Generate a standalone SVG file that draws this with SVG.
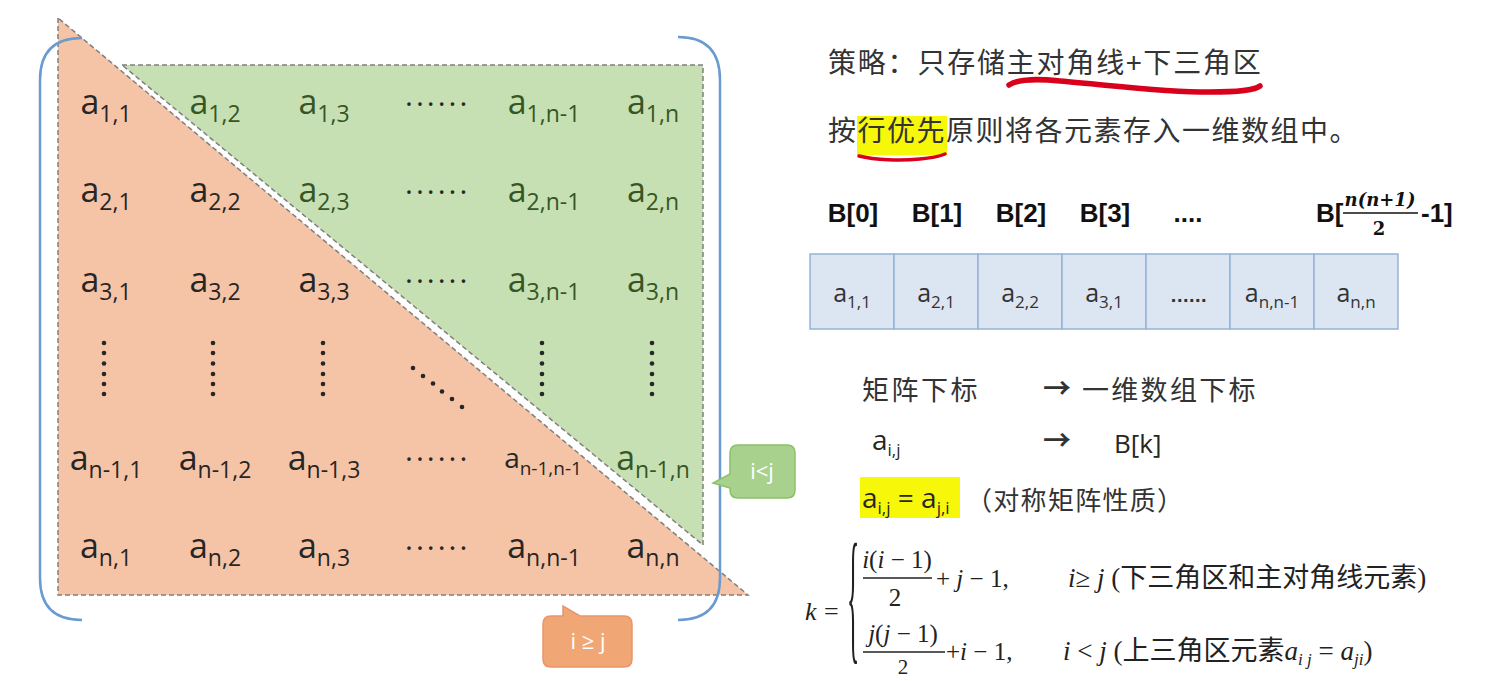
<svg xmlns="http://www.w3.org/2000/svg" width="1488" height="681" viewBox="0 0 1488 681">
<style>
.m{font-family:"Open Sans","Noto Sans",sans-serif;font-size:34px;fill:#262626}
.m .s{font-size:23px}
.gr{fill:#375623}
.dots{font-family:"Open Sans",sans-serif;font-size:30px;fill:#262626;letter-spacing:3px}
.dt{fill:#262626}
.cjk{font-family:"Noto Sans CJK SC",sans-serif;fill:#333333}
.bl{font-family:"Liberation Sans",Arial,sans-serif;font-weight:bold;font-size:26px;fill:#111111}
.cell{fill:#dce6f2;stroke:#95b3d7;stroke-width:1.5}
.ct{font-family:"Open Sans",sans-serif;font-size:25px;fill:#333333}
.ct .s{font-size:17px}
.mt{font-family:"Open Sans",sans-serif;font-size:28px;fill:#262626}
.mt .s{font-size:17px}
.ser{font-family:"Liberation Serif","Times New Roman",serif;font-size:25px;fill:#222222}
.it{font-style:italic}
.cn{font-family:"Liberation Serif","Noto Sans CJK SC",serif;font-size:27px;fill:#222222}
.dash{stroke:#7f7f7f;stroke-width:1.5;stroke-dasharray:5 3;fill:none}
.brk{fill:none;stroke:#6a9bd0;stroke-width:2.5}
.lbl{font-family:"Open Sans",sans-serif;font-size:22px;fill:#ffffff}
</style>

<g id="lower-triangle">
<polygon points="58,18 58,595 748,595" fill="#f5c4a7"/>
<polygon points="58,18 58,595 748,595" class="dash"/>
</g>
<g id="upper-triangle">
<polygon points="122,65 703,65 703,545" fill="#c6e0b4"/>
<polygon points="122,65 703,65 703,545" class="dash"/>
</g>

<g id="brackets">
<path class="brk" d="M82,38 Q40,38 40,80 L40,578 Q40,620 82,620"/>
<path class="brk" d="M678,37 Q720,37 720,80 L720,578 Q720,620 678,620"/>
</g>

<g id="matrix-elements">
<text class="m" x="106" y="114" text-anchor="middle">a<tspan class="s" dy="8">1,1</tspan></text>
<text class="m gr" x="215" y="114" text-anchor="middle">a<tspan class="s" dy="8">1,2</tspan></text>
<text class="m gr" x="324" y="114" text-anchor="middle">a<tspan class="s" dy="8">1,3</tspan></text>
<text class="dots" x="405" y="106">......</text>
<text class="m gr" x="544" y="114" text-anchor="middle">a<tspan class="s" dy="8">1,n-1</tspan></text>
<text class="m gr" x="653" y="114" text-anchor="middle">a<tspan class="s" dy="8">1,n</tspan></text>

<text class="m" x="106" y="202" text-anchor="middle">a<tspan class="s" dy="8">2,1</tspan></text>
<text class="m" x="215" y="202" text-anchor="middle">a<tspan class="s" dy="8">2,2</tspan></text>
<text class="m gr" x="324" y="202" text-anchor="middle">a<tspan class="s" dy="8">2,3</tspan></text>
<text class="dots" x="405" y="194">......</text>
<text class="m gr" x="544" y="202" text-anchor="middle">a<tspan class="s" dy="8">2,n-1</tspan></text>
<text class="m gr" x="653" y="202" text-anchor="middle">a<tspan class="s" dy="8">2,n</tspan></text>

<text class="m" x="106" y="292" text-anchor="middle">a<tspan class="s" dy="8">3,1</tspan></text>
<text class="m" x="215" y="292" text-anchor="middle">a<tspan class="s" dy="8">3,2</tspan></text>
<text class="m" x="324" y="292" text-anchor="middle">a<tspan class="s" dy="8">3,3</tspan></text>
<text class="dots" x="405" y="283">......</text>
<text class="m gr" x="544" y="292" text-anchor="middle">a<tspan class="s" dy="8">3,n-1</tspan></text>
<text class="m gr" x="653" y="292" text-anchor="middle">a<tspan class="s" dy="8">3,n</tspan></text>

<g class="dt">
<circle cx="104" cy="343" r="2.3"/><circle cx="104" cy="353" r="2.3"/><circle cx="104" cy="363.5" r="2.3"/><circle cx="104" cy="374" r="2.3"/><circle cx="104" cy="384" r="2.3"/><circle cx="104" cy="394" r="2.3"/>
<circle cx="213" cy="343" r="2.3"/><circle cx="213" cy="353" r="2.3"/><circle cx="213" cy="363.5" r="2.3"/><circle cx="213" cy="374" r="2.3"/><circle cx="213" cy="384" r="2.3"/><circle cx="213" cy="394" r="2.3"/>
<circle cx="323" cy="343" r="2.3"/><circle cx="323" cy="353" r="2.3"/><circle cx="323" cy="363.5" r="2.3"/><circle cx="323" cy="374" r="2.3"/><circle cx="323" cy="384" r="2.3"/><circle cx="323" cy="394" r="2.3"/>
<circle cx="542" cy="343" r="2.3"/><circle cx="542" cy="353" r="2.3"/><circle cx="542" cy="363.5" r="2.3"/><circle cx="542" cy="374" r="2.3"/><circle cx="542" cy="384" r="2.3"/><circle cx="542" cy="394" r="2.3"/>
<circle cx="652" cy="343" r="2.3"/><circle cx="652" cy="353" r="2.3"/><circle cx="652" cy="363.5" r="2.3"/><circle cx="652" cy="374" r="2.3"/><circle cx="652" cy="384" r="2.3"/><circle cx="652" cy="394" r="2.3"/>
<circle cx="413" cy="368" r="2.3"/><circle cx="423" cy="376" r="2.3"/><circle cx="433" cy="383.5" r="2.3"/><circle cx="442" cy="391.5" r="2.3"/><circle cx="452" cy="399" r="2.3"/><circle cx="462" cy="407" r="2.3"/>
</g>

<text class="m" x="106" y="470" text-anchor="middle">a<tspan class="s" dy="8">n-1,1</tspan></text>
<text class="m" x="215" y="470" text-anchor="middle">a<tspan class="s" dy="8">n-1,2</tspan></text>
<text class="m" x="324" y="470" text-anchor="middle">a<tspan class="s" dy="8">n-1,3</tspan></text>
<text class="dots" x="405" y="461">......</text>
<text class="m" x="543" y="468" text-anchor="middle" style="font-size:28px">a<tspan class="s" dy="7" style="font-size:19px">n-1,n-1</tspan></text>
<text class="m gr" x="653" y="470" text-anchor="middle">a<tspan class="s" dy="8">n-1,n</tspan></text>

<text class="m" x="106" y="558" text-anchor="middle">a<tspan class="s" dy="8">n,1</tspan></text>
<text class="m" x="215" y="558" text-anchor="middle">a<tspan class="s" dy="8">n,2</tspan></text>
<text class="m" x="324" y="558" text-anchor="middle">a<tspan class="s" dy="8">n,3</tspan></text>
<text class="dots" x="405" y="550">......</text>
<text class="m" x="544" y="558" text-anchor="middle">a<tspan class="s" dy="8">n,n-1</tspan></text>
<text class="m" x="653" y="558" text-anchor="middle">a<tspan class="s" dy="8">n,n</tspan></text>
</g>

<g id="callout-upper">
<path d="M738,445 H787 Q795,445 795,453 V490 Q795,498 787,498 H738 Q730,498 730,490 V488 L713,483 L730,474 V453 Q730,445 738,445 Z" fill="#a9d18e" stroke="#8cc068" stroke-width="1.5"/>
<text class="lbl" x="762" y="479" text-anchor="middle">i&lt;j</text>
</g>
<g id="callout-lower">
<path d="M551,616 H563 L563,606 L580,616 H624 Q632,616 632,624 V659 Q632,667 624,667 H551 Q543,667 543,659 V624 Q543,616 551,616 Z" fill="#f1a676" stroke="#e8956a" stroke-width="1.5"/>
<text class="lbl" x="588" y="649" text-anchor="middle">i ≥ j</text>
</g>

<g id="strategy">
<text class="cjk" x="828" y="73" style="font-size:28px;letter-spacing:1.8px">策略：只存储主对角线+下三角区</text>
<path d="M1009,85 C1020,78 1040,79 1060,81 C1110,85 1160,92 1210,92 C1235,92 1255,90 1260,86" fill="none" stroke="#d9001b" stroke-width="5.5" stroke-linecap="round"/>
<rect x="857" y="116" width="90" height="39" fill="#f7f70a"/>
<text class="cjk" x="828" y="141" style="font-size:28px;letter-spacing:1.5px">按行优先原则将各元素存入一维数组中。</text>
<path d="M859,156 C875,160 900,161 920,159 C932,158 940,156 945,154" fill="none" stroke="#d9001b" stroke-width="3.5" stroke-linecap="round"/>
</g>

<g id="array-labels">
<text class="bl" x="853" y="222" text-anchor="middle">B[0]</text>
<text class="bl" x="937" y="222" text-anchor="middle">B[1]</text>
<text class="bl" x="1021" y="222" text-anchor="middle">B[2]</text>
<text class="bl" x="1105" y="222" text-anchor="middle">B[3]</text>
<text class="bl" x="1188" y="222" text-anchor="middle">....</text>
<text class="bl" x="1316" y="222">B[</text>
<text x="1380" y="206" text-anchor="middle" style="font-family:'DejaVu Serif',serif;font-weight:bold;font-style:italic;font-size:18px;fill:#111">n(n+1)</text>
<line x1="1343" y1="213" x2="1418" y2="213" stroke="#111" stroke-width="1.6"/>
<text x="1379" y="235" text-anchor="middle" style="font-family:'DejaVu Serif',serif;font-weight:bold;font-size:18px;fill:#111">2</text>
<text class="bl" x="1421" y="222">-1]</text>
</g>

<g id="array">
<rect class="cell" x="810" y="254" width="84" height="75"/>
<rect class="cell" x="894" y="254" width="84" height="75"/>
<rect class="cell" x="978" y="254" width="84" height="75"/>
<rect class="cell" x="1062" y="254" width="84" height="75"/>
<rect class="cell" x="1146" y="254" width="84" height="75"/>
<rect class="cell" x="1230" y="254" width="84" height="75"/>
<rect class="cell" x="1314" y="254" width="84" height="75"/>
<text class="ct" x="852" y="302" text-anchor="middle">a<tspan class="s" dy="6">1,1</tspan></text>
<text class="ct" x="936" y="302" text-anchor="middle">a<tspan class="s" dy="6">2,1</tspan></text>
<text class="ct" x="1020" y="302" text-anchor="middle">a<tspan class="s" dy="6">2,2</tspan></text>
<text class="ct" x="1104" y="302" text-anchor="middle">a<tspan class="s" dy="6">3,1</tspan></text>
<text x="1189" y="302" text-anchor="middle" style="font-family:'Liberation Sans',sans-serif;font-weight:bold;font-size:20px;fill:#333;letter-spacing:0.5px">......</text>
<text class="ct" x="1272" y="302" text-anchor="middle">a<tspan class="s" dy="6">n,n-1</tspan></text>
<text class="ct" x="1356" y="302" text-anchor="middle">a<tspan class="s" dy="6">n,n</tspan></text>
</g>

<g id="mapping">
<text class="cjk" x="862" y="400" style="font-size:27px;letter-spacing:2.5px">矩阵下标</text>
<text class="cjk" x="1043" y="399" style="font-size:28px;font-weight:bold">→</text>
<text class="cjk" x="1082" y="400" style="font-size:27px;letter-spacing:2.3px">一维数组下标</text>
<text class="mt" x="872" y="450">a<tspan class="s" dy="6">i,j</tspan></text>
<text class="cjk" x="1043" y="451" style="font-size:28px;font-weight:bold">→</text>
<text class="mt" x="1114" y="453" style="font-size:26px">B[k]</text>
<rect x="860" y="477" width="100" height="41" fill="#f7f70a"/>
<text class="mt" x="862" y="508">a<tspan class="s" dy="6">i,j</tspan><tspan dy="-6"> = a</tspan><tspan class="s" dy="6">j,i</tspan></text>
<text class="cjk" x="966" y="510" style="font-size:26px;letter-spacing:1.3px">（对称矩阵性质）</text>
</g>

<g id="formula">
<text class="ser it" x="805" y="620" style="font-size:26px">k</text>
<text class="ser" x="824" y="620" style="font-size:26px">=</text>
<text class="ser" transform="translate(847,612) scale(0.75,4.3)" x="0" y="7.5" style="font-size:34px">{</text>
<text class="ser" x="897" y="568" text-anchor="middle"><tspan class="it">i</tspan>(<tspan class="it">i</tspan> − 1)</text>
<line x1="863" y1="578" x2="932" y2="578" stroke="#222" stroke-width="1.3"/>
<text class="ser" x="895" y="606" text-anchor="middle">2</text>
<text class="ser" x="936" y="587">+ <tspan class="it">j</tspan> − 1,</text>
<text class="ser" x="903" y="642" text-anchor="middle"><tspan class="it">j</tspan>(<tspan class="it">j</tspan> − 1)</text>
<line x1="863" y1="652" x2="945" y2="652" stroke="#222" stroke-width="1.3"/>
<text class="ser" x="903" y="674" text-anchor="middle" style="font-size:21px">2</text>
<text class="ser" x="946" y="660">+<tspan class="it">i</tspan> − 1,</text>
<text class="cn" x="1068" y="587"><tspan class="it">i</tspan>≥ <tspan class="it">j</tspan> (下三角区和主对角线元素)</text>
<text class="cn" x="1063" y="660"><tspan class="it">i</tspan> &lt; <tspan class="it">j</tspan> (上三角区元素<tspan class="it">a</tspan><tspan class="it" dy="5" style="font-size:17px">i j</tspan><tspan dy="-5"> = </tspan><tspan class="it">a</tspan><tspan class="it" dy="5" style="font-size:17px">ji</tspan><tspan dy="-5">)</tspan></text>
</g>
</svg>
